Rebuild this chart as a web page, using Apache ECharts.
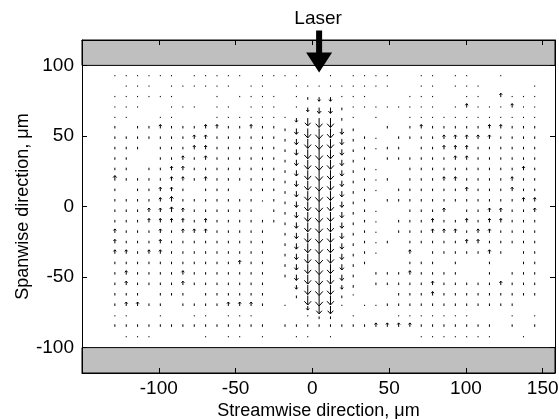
<!DOCTYPE html>
<html>
<head>
<meta charset="utf-8">
<title>Flow field</title>
<script src="https://cdn.jsdelivr.net/npm/echarts@6/dist/echarts.min.js"></script>
<style>
    html, body { margin: 0; padding: 0; background: #ffffff; }
    #flow_field_chart { width: 559px; height: 419px; }
</style>
</head>
<body>
<div id="flow_field_chart"></div>
<script>
// 流向 (streamwise) 网格坐标, µm
var gridX = [-128.6, -121.2, -113.8, -106.4, -99.0, -91.7, -84.3, -76.9, -69.5, -62.1,
    -54.7, -47.3, -39.9, -32.5, -25.1, -17.8, -10.4, -3.0, 4.4, 11.8,
    19.2, 26.6, 34.0, 41.4, 48.8, 56.2, 63.5, 70.9, 78.3, 85.7,
    93.1, 100.5, 107.9, 115.3, 122.7, 130.1, 137.5, 144.8];
// 展向 (spanwise) 网格坐标, µm
var gridY = [92.3, 84.9, 77.5, 70.1, 62.7, 55.3, 47.9, 40.5, 33.1, 25.7,
    18.3, 10.9, 3.5, -3.9, -11.3, -18.7, -26.1, -33.5, -40.9, -48.3,
    -55.7, -63.1, -70.5, -77.9, -85.3, -92.7];
// 每一行的矢量 (one char per grid column, ' ' = no vector)
var vectorRows = [
    "...... ..... ....  . ....  .. ..  .   ",
    " ... ...... ..  .........  .. ...    .",
    "......   . .... .abb...   ...  .. I...",
    "...  ... .. ... .bcca........ .I...I..",
    "..  ..   .......bdeea. .  ............",
    "i iiIiiiIIiiIiiacefeca  i iIiiiiiIIiii",
    "iiiiiiiIIiiiiiiacefecai. iiiiIIIIIiiii",
    "iii iiiIIiiiiiiacefecai.ii iiIIIiiiiii",
    "ii  iiIiIiiiiiiacefecai iiiiiiIIiiiiii",
    "ii iiIIiiiiiiiiacefecai.  iiiiiiiiiiIi",
    "!iiiiIIiIiiiiiiacefecai.i iiiIIiiiiIii",
    "i iiIIi iii iiiacefecai. iiiiiiIiiiIii",
    "iiiiI!iiiiiii.iacefecai iiiiiiiiiiiiII",
    "iiiII!Iiiiiii iacefecai.  iiiI iiIIiiI",
    "iiiIIIIiIiiiiiiacefecai. iiiIiiIiIIiii",
    "IiiiIiIIIiiiii acefecai. iiiIIIiIIiiii",
    "IiiiIiiiiiiiii acefecai.i iiiiiIIiiiii",
    "IIiIIiiiiiiiii acefecai.  I iiiiiIi ii",
    "iiiiiiiiiiiIii acefecai   iii i  i  ii",
    "iIiiiiIiiiiiii acefeca iiiIiiii  i iii",
    "iIiiiiIiiiiiii  befeba iiiiiIiiiiiIiii",
    "iii iii iiiiii  aefea.   iiiIiiiiiiiii",
    "iIIii iiiiIIIi . bdd. ..iiiiiiiiiiii  ",
    "..  .  .. ...    .aa .   .......   . .",
    "iiiiiiiiiiiiii iiiiiiiiIIIIiiiiiii i i",
    " ...    . .. .  .. .       .......  . "
];
// 字符对应的展向速度 (negative = towards the bottom wall)
var vectorCodes = {'.': 0.6, 'i': 1.8, 'I': 2.8, '!': 3.6, 'a': -1.9, 'b': -2.9, 'c': -4.1, 'd': -5.6, 'e': -6.7, 'f': -7.4};
// 通道壁 (gray walls), µm
var wallBands = [[100, 118], [-118, -100]];
// 激光位置
var laserX = [4.4];
var laserTipY = [95];
// 坐标轴
var xRange = [-150, 158];
var yRange = [-118, 118];
var xTickLabels = [-100, -50, 0, 50, 100, 150];
var yTickLabels = [-100, -50, 0, 50, 100];

var FONT = '"Liberation Sans", Arial, sans-serif';

/**
 * 页面初始化
 */
window.onload = function () {
    flow_field_chart();
};

/**
 * 把字符行转换为矢量数据 [x, y, u, v]
 */
function buildVectors() {
    var data = [];
    for (var r = 0; r < vectorRows.length; r++) {
        var row = vectorRows[r];
        for (var k = 0; k < gridX.length; k++) {
            var ch = row.charAt(k);
            if (!ch || ch === ' ' || vectorCodes[ch] === undefined) continue;
            data.push([gridX[k], gridY[r], 0, vectorCodes[ch]]);
        }
    }
    return data;
}

/**
 * 画一个矢量箭头
 */
function renderVector(params, api) {
    var x = api.value(0), y = api.value(1), u = api.value(2), v = api.value(3);
    var p0 = api.coord([x, y]);
    var p1 = api.coord([x + u, y + v]);
    var dx = p1[0] - p0[0], dy = p1[1] - p0[1];
    var len = Math.sqrt(dx * dx + dy * dy);
    if (len < 1.2) {
        var s = len > 0 ? 1.2 / len : 0;
        p1 = len > 0 ? [p0[0] + dx * s, p0[1] + dy * s] : [p0[0], p0[1] - 1.2];
        dx = p1[0] - p0[0];
        dy = p1[1] - p0[1];
        len = 1.2;
    }
    var children = [{
        type: 'line',
        shape: {x1: p0[0], y1: p0[1], x2: p1[0], y2: p1[1]},
        style: {stroke: '#000000', lineWidth: 1}
    }];
    if (len >= 3) {
        var ux = dx / len, uy = dy / len;
        var hl = len * 0.4, hw = len * 0.36;
        var bx = p1[0] - ux * hl, by = p1[1] - uy * hl;
        children.push({
            type: 'polyline',
            shape: {points: [[bx - uy * hw, by + ux * hw], [p1[0], p1[1]], [bx + uy * hw, by - ux * hw]]},
            style: {stroke: '#000000', lineWidth: 1, fill: null}
        });
    }
    return {type: 'group', children: children};
}

/**
 * 灰色通道壁
 */
function renderWall(params, api) {
    var pa = api.coord([xRange[0], api.value(1)]);
    var pb = api.coord([xRange[1], api.value(0)]);
    return {
        type: 'rect',
        shape: {x: pa[0], y: pa[1], width: pb[0] - pa[0], height: pb[1] - pa[1]},
        style: {fill: '#bfbfbf', stroke: '#000000', lineWidth: 1}
    };
}

/**
 * 激光箭头
 */
function renderLaser(params, api) {
    var tip = api.coord([api.value(0), api.value(1)]);
    var tx = tip[0], ty = tip[1];
    return {
        type: 'group',
        children: [{
            type: 'polygon',
            shape: {
                points: [[tx, ty], [tx - 13, ty - 20], [tx - 3, ty - 20], [tx - 3, ty - 42],
                    [tx + 3, ty - 42], [tx + 3, ty - 20], [tx + 13, ty - 20]]
            },
            style: {fill: '#000000'}
        }, {
            type: 'text',
            style: {
                x: tx - 1, y: ty - 54, text: 'Laser', fill: '#000000',
                font: '19px ' + FONT, align: 'center', verticalAlign: 'middle'
            }
        }]
    };
}

/**
 * 流场矢量图
 */
function flow_field_chart() {
    var myChart = echarts.init(document.getElementById('flow_field_chart'));
    var tickLine = {inside: true, length: 5, lineStyle: {color: '#000000', width: 1}};
    var frameLine = {onZero: false, lineStyle: {color: '#000000', width: 1}};
    var option = {
        animation: false,
        backgroundColor: '#ffffff',
        grid: {left: 82, right: 4, top: 40, bottom: 46, containLabel: false, outerBoundsMode: 'none'},
        xAxis: [{
            type: 'value',
            position: 'bottom',
            min: xRange[0],
            max: xRange[1],
            interval: 50,
            z: 10,
            axisLine: frameLine,
            axisTick: tickLine,
            splitLine: {show: false},
            axisLabel: {
                color: '#000000', fontSize: 19, fontFamily: FONT, margin: 6,
                formatter: function (val) { return xTickLabels.indexOf(val) >= 0 ? String(val) : ''; }
            },
            name: 'Streamwise direction, \u03bcm',
            nameLocation: 'middle',
            nameMoveOverlap: false,
            nameGap: 29,
            nameTextStyle: {color: '#000000', fontSize: 18, fontFamily: FONT}
        }, {
            type: 'value',
            position: 'top',
            min: xRange[0],
            max: xRange[1],
            interval: 50,
            z: 10,
            axisLine: frameLine,
            axisTick: tickLine,
            splitLine: {show: false},
            axisLabel: {show: false}
        }],
        yAxis: [{
            type: 'value',
            position: 'left',
            min: yRange[0],
            max: yRange[1],
            splitNumber: 5,
            z: 10,
            axisLine: frameLine,
            axisTick: tickLine,
            splitLine: {show: false},
            axisLabel: {
                color: '#000000', fontSize: 19, fontFamily: FONT, margin: 8,
                formatter: function (val) { return yTickLabels.indexOf(val) >= 0 ? String(val) : ''; }
            },
            name: 'Spanwise direction, \u03bcm',
            nameLocation: 'middle',
            nameMoveOverlap: false,
            nameGap: 50,
            nameTextStyle: {color: '#000000', fontSize: 18, fontFamily: FONT}
        }, {
            type: 'value',
            position: 'right',
            min: yRange[0],
            max: yRange[1],
            splitNumber: 5,
            z: 10,
            axisLine: frameLine,
            axisTick: tickLine,
            splitLine: {show: false},
            axisLabel: {show: false}
        }],
        series: [{
            name: 'walls',
            type: 'custom',
            renderItem: renderWall,
            data: wallBands,
            z: 1,
            silent: true
        }, {
            name: 'velocity',
            type: 'custom',
            renderItem: renderVector,
            data: buildVectors(),
            encode: {x: 0, y: 1},
            z: 2,
            silent: true
        }, {
            name: 'laser',
            type: 'custom',
            renderItem: renderLaser,
            data: [[laserX[0], laserTipY[0]]],
            clip: false,
            z: 20,
            silent: true
        }]
    };
    if (option && typeof option === "object") {
        myChart.setOption(option, true);
    }
}
</script>
</body>
</html>
